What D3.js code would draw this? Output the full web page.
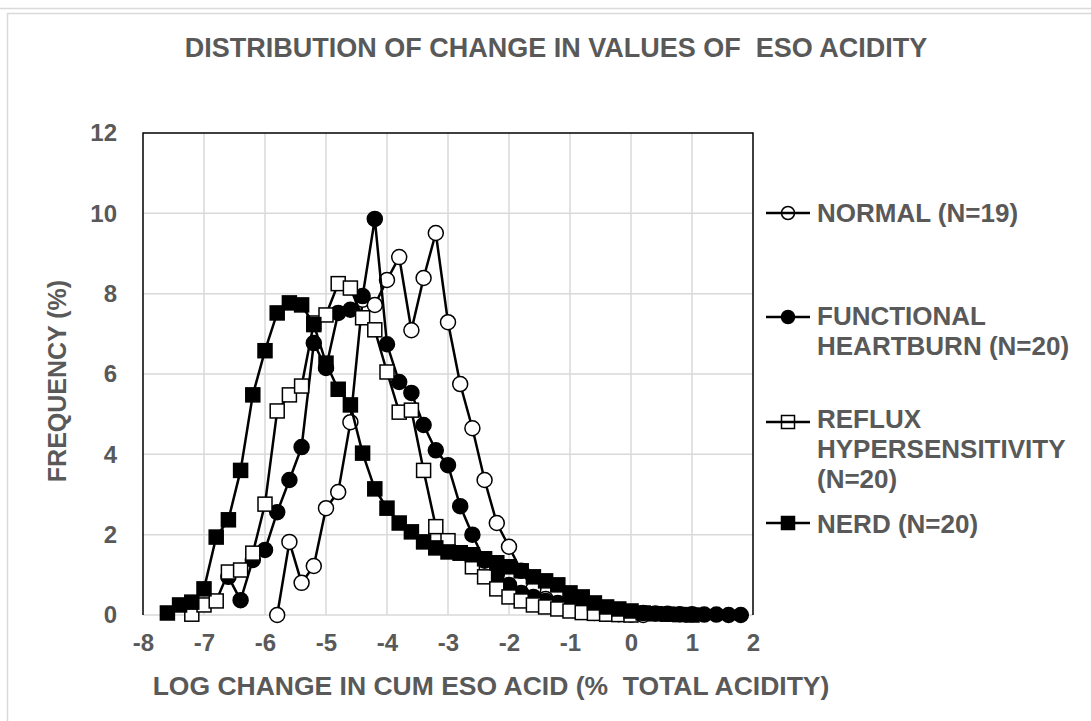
<!DOCTYPE html>
<html>
<head>
<meta charset="utf-8">
<script src="https://cdn.jsdelivr.net/npm/d3@7"></script>
<style>
  body { margin: 0; background: #fff; }
  svg { display: block; }
  text { font-family: "Liberation Sans", Arial, sans-serif; font-weight: bold; fill: #595959; }
</style>
</head>
<body>
<svg id="chart" width="1091" height="721"></svg>
<script>
// ---------- data ----------
const title = "DISTRIBUTION OF CHANGE IN VALUES OF\u00a0\u00a0ESO ACIDITY";
const xAxisTitle = "LOG CHANGE IN CUM ESO ACID (%\u00a0\u00a0TOTAL ACIDITY)";
const yAxisTitle = "FREQUENCY (%)";
const xTicks = [-8, -7, -6, -5, -4, -3, -2, -1, 0, 1, 2];
const yTicks = [0, 2, 4, 6, 8, 10, 12];

const normalX = [-5.8,-5.6,-5.4,-5.2,-5.0,-4.8,-4.6,-4.4,-4.2,-4.0,-3.8,-3.6,-3.4,-3.2,-3.0,-2.8,-2.6,-2.4,-2.2,-2.0,-1.8,-1.6,-1.4,-1.2,-1.0,-0.8,-0.6,-0.4,-0.2,0.0,0.2];
const normalY = [0,1.82,0.8,1.22,2.66,3.06,4.8,7.85,7.72,8.34,8.91,7.09,8.39,9.51,7.29,5.75,4.65,3.36,2.29,1.7,1.1,0.65,0.4,0.25,0.15,0.1,0.05,0.03,0.02,0.01,0];

const fhX = [-6.6,-6.4,-6.2,-6.0,-5.8,-5.6,-5.4,-5.2,-5.0,-4.8,-4.6,-4.4,-4.2,-4.0,-3.8,-3.6,-3.4,-3.2,-3.0,-2.8,-2.6,-2.4,-2.2,-2.0,-1.8,-1.6,-1.4,-1.2,-1.0,-0.8,-0.6,-0.4,-0.2,0.0,0.2,0.4,0.6,0.8,1.0,1.2,1.4,1.6,1.8];
const fhY = [0.95,0.37,1.37,1.62,2.56,3.36,4.18,6.77,6.15,7.52,7.6,7.94,9.86,6.74,5.8,5.53,4.73,4.1,3.73,2.71,2.0,1.35,1.0,0.75,0.55,0.45,0.35,0.3,0.25,0.2,0.15,0.12,0.1,0.07,0.05,0.04,0.03,0.02,0.02,0.01,0.01,0,0];

const rhX = [-7.2,-7.0,-6.8,-6.6,-6.4,-6.2,-6.0,-5.8,-5.6,-5.4,-5.2,-5.0,-4.8,-4.6,-4.4,-4.2,-4.0,-3.8,-3.6,-3.4,-3.2,-3.0,-2.8,-2.6,-2.4,-2.2,-2.0,-1.8,-1.6,-1.4,-1.2,-1.0,-0.8,-0.6,-0.4,-0.2,0.0];
const rhY = [0.02,0.25,0.35,1.07,1.12,1.54,2.76,5.08,5.48,5.7,7.27,7.47,8.25,8.14,7.4,7.1,6.05,5.05,5.1,3.6,2.2,1.85,1.55,1.2,0.95,0.65,0.45,0.35,0.25,0.2,0.15,0.1,0.06,0.04,0.02,0.01,0];

const nerdX = [-7.6,-7.4,-7.2,-7.0,-6.8,-6.6,-6.4,-6.2,-6.0,-5.8,-5.6,-5.4,-5.2,-5.0,-4.8,-4.6,-4.4,-4.2,-4.0,-3.8,-3.6,-3.4,-3.2,-3.0,-2.8,-2.6,-2.4,-2.2,-2.0,-1.8,-1.6,-1.4,-1.2,-1.0,-0.8,-0.6,-0.4,-0.2,0.0,0.2,0.4,0.6,0.8,1.0];
const nerdY = [0.05,0.25,0.32,0.65,1.94,2.37,3.6,5.48,6.58,7.52,7.77,7.72,7.23,6.27,5.62,5.23,4.03,3.14,2.66,2.29,2.07,1.82,1.67,1.57,1.54,1.5,1.4,1.3,1.2,1.1,0.95,0.85,0.75,0.55,0.45,0.3,0.2,0.15,0.1,0.05,0.03,0.02,0.01,0];

const seriesNames = ["NORMAL (N=19)", "FUNCTIONAL HEARTBURN (N=20)", "REFLUX HYPERSENSITIVITY (N=20)", "NERD (N=20)"];
const legendLines = [["NORMAL (N=19)"], ["FUNCTIONAL", "HEARTBURN (N=20)"], ["REFLUX", "HYPERSENSITIVITY", "(N=20)"], ["NERD (N=20)"]];

// ---------- build ----------
const series = [
  { name: seriesNames[0], xs: normalX, ys: normalY, shape: "circle", fill: "#fff" },
  { name: seriesNames[1], xs: fhX, ys: fhY, shape: "circle", fill: "#000" },
  { name: seriesNames[2], xs: rhX, ys: rhY, shape: "square", fill: "#fff" },
  { name: seriesNames[3], xs: nerdX, ys: nerdY, shape: "square", fill: "#000" }
];

const svg = d3.select("#chart");
const W = 1091, H = 721;
const plot = { left: 143, right: 753, top: 133, bottom: 615 };

// outer chart border
svg.append("line").attr("x1", 0).attr("x2", W).attr("y1", 8.5).attr("y2", 8.5)
  .attr("stroke", "#d9d9d9").attr("stroke-width", 1.5);
svg.append("rect").attr("x", 7.5).attr("y", 13.5).attr("width", W).attr("height", H)
  .attr("fill", "none").attr("stroke", "#d9d9d9").attr("stroke-width", 1.5);

const x = d3.scaleLinear().domain([-8, 2]).range([plot.left, plot.right]);
const y = d3.scaleLinear().domain([0, 12]).range([plot.bottom, plot.top]);

// gridlines
const grid = svg.append("g");
grid.selectAll("line.v").data(xTicks.slice(1, -1)).join("line")
  .attr("x1", d => x(d)).attr("x2", d => x(d))
  .attr("y1", plot.top).attr("y2", plot.bottom)
  .attr("stroke", "#d9d9d9").attr("stroke-width", 1.5);
grid.selectAll("line.h").data(yTicks.slice(0, -1)).join("line")
  .attr("x1", plot.left).attr("x2", plot.right)
  .attr("y1", d => y(d)).attr("y2", d => y(d))
  .attr("stroke", "#d9d9d9").attr("stroke-width", 1.5);

// frame (top, left, right black)
svg.append("path")
  .attr("d", `M${plot.left},${plot.bottom}V${plot.top}H${plot.right}V${plot.bottom}`)
  .attr("fill", "none").attr("stroke", "#000").attr("stroke-width", 1.5);

// axes
const fmt = d => String(d);
const xAxis = d3.axisBottom(x).tickValues(xTicks).tickSize(0).tickPadding(19).tickFormat(fmt);
const gx = svg.append("g").attr("transform", `translate(0,${plot.bottom})`).call(xAxis);
gx.select(".domain").remove();
gx.selectAll("text").style("font-size", "24px").style("font-family", "Liberation Sans, Arial, sans-serif").attr("fill", "#595959").style("font-weight", "bold");

const yAxis = d3.axisLeft(y).tickValues(yTicks).tickSize(0).tickPadding(26).tickFormat(fmt);
const gy = svg.append("g").attr("transform", `translate(${plot.left},0)`).call(yAxis);
gy.select(".domain").remove();
gy.selectAll("text").style("font-size", "24px").style("font-family", "Liberation Sans, Arial, sans-serif").attr("fill", "#595959").style("font-weight", "bold");

// titles
svg.append("text").attr("x", 556).attr("y", 57).attr("text-anchor", "middle")
  .style("font-size", "27px").text(title);
svg.append("text").attr("x", 491).attr("y", 695).attr("text-anchor", "middle")
  .style("font-size", "26.5px").text(xAxisTitle);
svg.append("text").attr("transform", "translate(66,381) rotate(-90)").attr("text-anchor", "middle")
  .style("font-size", "25px").text(yAxisTitle);

// series
const line = d3.line().x(d => x(d[0])).y(d => y(d[1]));
function drawMarker(g, shape, fill, cx, cy, size) {
  if (shape === "circle") {
    g.append("circle").attr("cx", cx).attr("cy", cy).attr("r", size / 2)
      .attr("fill", fill).attr("stroke", "#000").attr("stroke-width", 1.5);
  } else {
    g.append("rect").attr("x", cx - size / 2).attr("y", cy - size / 2)
      .attr("width", size).attr("height", size)
      .attr("fill", fill).attr("stroke", "#000").attr("stroke-width", 1.5);
  }
}
series.forEach(s => {
  const pts = s.xs.map((v, i) => [v, s.ys[i]]);
  const g = svg.append("g");
  g.append("path").datum(pts).attr("d", line)
    .attr("fill", "none").attr("stroke", "#000").attr("stroke-width", 2.5);
  pts.forEach(p => drawMarker(g, s.shape, s.fill, x(p[0]), y(p[1]), s.shape === "circle" ? 15 : 14));
});

// legend
const legendY = [213, 317, 422, 523];
const legendBase = [[222], [325, 355], [428, 458, 488], [533]];
series.forEach((s, i) => {
  const g = svg.append("g");
  drawMarker(g, s.shape, s.fill, 788, legendY[i], 13);
  g.append("line").attr("x1", 766).attr("x2", 810).attr("y1", legendY[i]).attr("y2", legendY[i])
    .attr("stroke", "#000").attr("stroke-width", 2.5);
  legendLines[i].forEach((t, j) => {
    g.append("text").attr("x", 817).attr("y", legendBase[i][j]).style("font-size", "26px").text(t);
  });
});
</script>
</body>
</html>
